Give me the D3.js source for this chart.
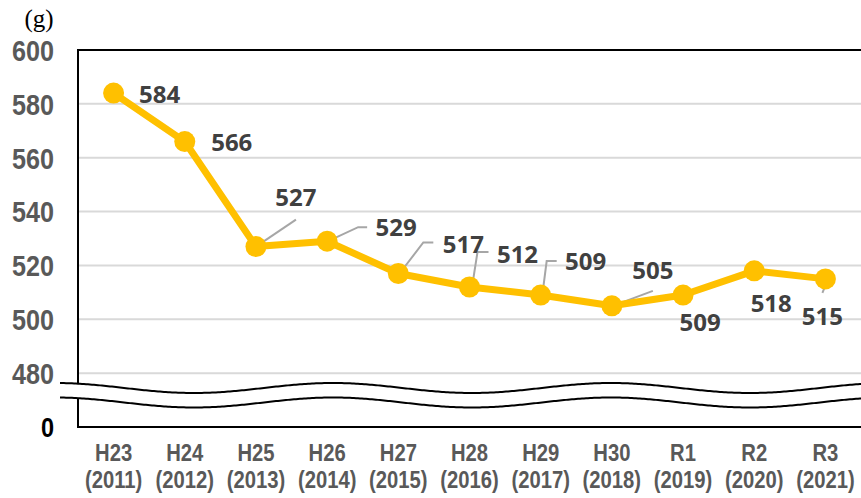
<!DOCTYPE html>
<html>
<head>
<meta charset="utf-8">
<script src="https://cdn.jsdelivr.net/npm/d3@7"></script>
<style>
  body { margin: 0; background: #fff; }
  svg { display: block; }
</style>
</head>
<body>
<div id="chart"></div>
<script>
// data
var eras = ["H23", "H24", "H25", "H26", "H27", "H28", "H29", "H30", "R1", "R2", "R3"];
var years = ["(2011)", "(2012)", "(2013)", "(2014)", "(2015)", "(2016)", "(2017)", "(2018)", "(2019)", "(2020)", "(2021)"];
var grams = [584, 566, 527, 529, 517, 512, 509, 505, 509, 518, 515];
var yTicks = [460, 480, 500, 520, 540, 560, 580, 600];
var yTickLabels = ["0", "480", "500", "520", "540", "560", "580", "600"];
var unitLabel = "(g)";

// label placement (offset of text centre from its point) and leader lines
var labelOffsets = [[46, 1], [47, 1], [40, -49], [69, -14], [65, -29], [48, -33],
  [45, -34], [41, -35], [17, 27], [17, 33], [-3, 37]];
var leaders = [null, null, [[0, 0], [40, -27]], [[1, 0], [31, -14], [40, -14]],
  [[2, -1], [25, -31], [35, -31]], [[3, -3], [8, -35], [19, -35]],
  [[2, -3], [6, -34], [16, -34]], [[1, 0], [41, -15]], null, null, [[3, -1], [-3, 14]]];

var W = 861, H = 498;
var m = { left: 78, right: 861, top: 50, bottom: 427 };
var axisFont = "'Liberation Sans', Arial, sans-serif";

var svg = d3.select("#chart").append("svg")
  .attr("width", W)
  .attr("height", H);

var x = d3.scaleBand().domain(eras).range([m.left, m.right]).padding(0);
var y = d3.scaleLinear().domain([460, 600]).range([m.bottom, m.top]);
var cx = function (i) { return x(eras[i]) + x.bandwidth() / 2; };

// gridlines
svg.append("g").selectAll("line")
  .data(yTicks.filter(function (t) { return t > 460 && t < 600; }))
  .enter().append("line")
  .attr("x1", m.left).attr("x2", m.right)
  .attr("y1", function (d) { return y(d); })
  .attr("y2", function (d) { return y(d); })
  .attr("stroke", "#d9d9d9")
  .attr("stroke-width", 2);

// frame: left, top, bottom
svg.append("path")
  .attr("d", "M" + m.right + "," + y(600) + "H" + m.left + "V" + y(460) + "H" + m.right)
  .attr("fill", "none")
  .attr("stroke", "#000")
  .attr("stroke-width", 2);

// y labels, squeezed to look like the narrow original face
svg.append("g").selectAll("text")
  .data(yTicks)
  .enter().append("text")
  .attr("transform", function (d) { return "translate(54," + y(d) + ") scale(0.84,1)"; })
  .attr("text-anchor", "end")
  .attr("dy", "0.36em")
  .attr("font-family", axisFont)
  .attr("font-weight", "bold")
  .attr("font-size", function (d) { return d == 460 ? "28px" : "30px"; })
  .attr("fill", function (d) { return d == 460 ? "#000" : "#595959"; })
  .text(function (d, i) { return yTickLabels[i]; });

svg.append("text")
  .attr("x", 39).attr("y", 27)
  .attr("text-anchor", "middle")
  .attr("font-family", "'Liberation Serif', serif")
  .attr("font-size", "25px")
  .attr("fill", "#000")
  .text(unitLabel);

// axis break wave
var waveTop = d3.range(60, W + 2, 2).map(function (px) {
  return [px, 388 - 5 * Math.cos(2 * Math.PI * (px - 55) / 278)];
});
var waveBot = waveTop.map(function (p) { return [p[0], p[1] + 14.5]; });
var wline = d3.line();
svg.append("path")
  .attr("d", wline(waveTop.concat(waveBot.slice().reverse())) + "Z")
  .attr("fill", "#fff");
[waveTop, waveBot].forEach(function (w) {
  svg.append("path")
    .attr("d", wline(w))
    .attr("fill", "none")
    .attr("stroke", "#000")
    .attr("stroke-width", 2);
});

// x labels
var xl = svg.append("g").selectAll("g")
  .data(eras)
  .enter().append("g")
  .attr("transform", function (d, i) { return "translate(" + cx(i) + ",0) scale(0.88,1)"; })
  .attr("font-family", axisFont)
  .attr("font-weight", "bold")
  .attr("font-size", "23px")
  .attr("fill", "#595959")
  .attr("text-anchor", "middle");
xl.append("text").attr("y", 461).text(function (d) { return d; });
xl.append("text").attr("y", 488).text(function (d, i) { return years[i]; });

// leader lines
svg.append("g").selectAll("path")
  .data(grams.map(function (v, i) { return i; }).filter(function (i) { return leaders[i]; }))
  .enter().append("path")
  .attr("d", function (i) {
    var px = cx(i), py = y(grams[i]);
    return d3.line()(leaders[i].map(function (p) { return [px + p[0], py + p[1]]; }));
  })
  .attr("fill", "none")
  .attr("stroke", "#a6a6a6")
  .attr("stroke-width", 2);

// series
var line = d3.line()
  .x(function (d, i) { return cx(i); })
  .y(function (d) { return y(d); });
svg.append("path")
  .datum(grams)
  .attr("d", line)
  .attr("fill", "none")
  .attr("stroke", "#ffc000")
  .attr("stroke-width", 7)
  .attr("stroke-linejoin", "round");
svg.append("g").selectAll("circle")
  .data(grams)
  .enter().append("circle")
  .attr("cx", function (d, i) { return cx(i); })
  .attr("cy", function (d) { return y(d); })
  .attr("r", 10.5)
  .attr("fill", "#ffc000");

// value labels
svg.append("g").selectAll("text")
  .data(grams)
  .enter().append("text")
  .attr("x", function (d, i) { return cx(i) + labelOffsets[i][0]; })
  .attr("y", function (d, i) { return y(d) + labelOffsets[i][1]; })
  .attr("dy", "0.36em")
  .attr("text-anchor", "middle")
  .attr("font-family", "'Open Sans', sans-serif")
  .attr("font-weight", "bold")
  .attr("font-size", "24px")
  .attr("fill", "#404040")
  .text(function (d) { return d; });
</script>
</body>
</html>
